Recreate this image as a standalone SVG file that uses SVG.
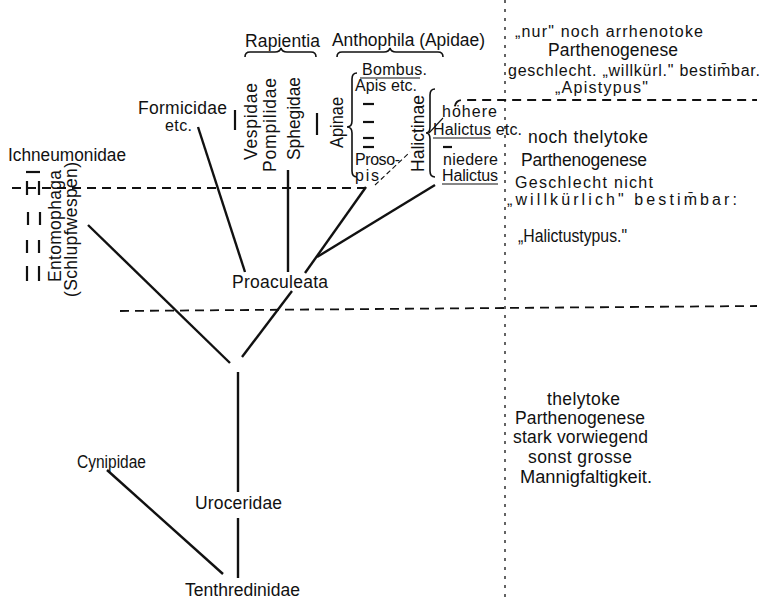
<svg xmlns="http://www.w3.org/2000/svg" width="766" height="599" viewBox="0 0 766 599">
<style>
text{font-family:"Liberation Sans","DejaVu Sans",sans-serif;font-size:17.5px;fill:#111}
text.s{font-size:16px}
.br{fill:none;stroke:#111;stroke-width:1.6}
.ln{stroke:#111;stroke-width:2.4;fill:none;stroke-linecap:butt}
.tk{stroke:#111;stroke-width:2.2}
.dash{stroke:#111;stroke-width:1.8;stroke-dasharray:9,6;fill:none}
.dot{stroke:#111;stroke-width:1.3;stroke-dasharray:3,6}
.thin{stroke:#111;stroke-width:1.1;fill:none}
.ul{stroke:#111;stroke-width:1.2}
</style>
<rect width="766" height="599" fill="#fff"/>

<g id="guides">
<line class="dot" x1="505" y1="0" x2="505" y2="599"/>
<line class="dash" x1="12" y1="188" x2="370" y2="188"/>
<path class="dash" d="M455,106 Q456,100 463,100 L757,100"/>
<line class="dash" x1="120" y1="311" x2="757" y2="306"/>
</g>

<g id="connectors">
<line class="ln" x1="198" y1="127" x2="245" y2="272"/>
<line class="ln" x1="288" y1="170" x2="288" y2="272"/>
<line class="ln" x1="366" y1="187" x2="305" y2="273"/>
<line class="ln" x1="435" y1="185" x2="317" y2="257"/>
<line class="ln" x1="292" y1="291" x2="242" y2="357"/>
<line class="ln" x1="88" y1="225" x2="230" y2="363"/>
<line class="ln" x1="238" y1="372" x2="238" y2="492"/>
<line class="ln" x1="238" y1="518" x2="238" y2="578"/>
<line class="ln" x1="107" y1="470" x2="223" y2="574"/>
<line class="thin" x1="375" y1="185" x2="410" y2="152" stroke-dasharray="5,3"/>
<line class="thin" x1="429" y1="133" x2="443" y2="118"/>
</g>

<g id="rapientia">
<text x="245" y="47" textLength="75">Rapientia</text>
<path class="br" d="M245,57 Q245,52 250,52 L275,52 Q280,52 281,48 Q282,52 287,52 L311,52 Q316,52 316,57"/>
<text transform="translate(257,121.5) rotate(-90)" text-anchor="middle" textLength="77">Vespidae</text>
<text transform="translate(276,125) rotate(-90)" text-anchor="middle" textLength="94">Pompilidae</text>
<text transform="translate(300,118.5) rotate(-90)" text-anchor="middle" textLength="83" lengthAdjust="spacingAndGlyphs">Sphegidae</text>
<line class="tk" x1="235" y1="110" x2="235" y2="130"/>
<line class="tk" x1="317" y1="113" x2="317" y2="135"/>
</g>

<g id="anthophila">
<text x="332" y="46" textLength="153" lengthAdjust="spacingAndGlyphs">Anthophila (Apidae)</text>
<path class="br" d="M337,57 Q337,52 342,52 L384,52 Q389,52 390,48 Q391,52 396,52 L438,52 Q443,52 443,57"/>
</g>

<g id="apinae">
<text transform="translate(343,122.5) rotate(-90)" text-anchor="middle" textLength="51" lengthAdjust="spacingAndGlyphs">Apinae</text>
<path class="br" d="M357,73 Q352,73 352,79 L352,121 Q352,127 347,127 Q352,127 352,133 L352,171 Q352,177 357,177"/>
<text class="s" x="362" y="75" textLength="65">Bombus.</text>
<line class="ul" x1="360" y1="78" x2="420" y2="78"/>
<text class="s" x="355" y="91" textLength="62">Apis etc.</text>
<line class="tk" x1="363" y1="104" x2="374" y2="104"/>
<line class="tk" x1="363" y1="122" x2="374" y2="122"/>
<line class="tk" x1="363" y1="138" x2="374" y2="138"/>
<line class="tk" x1="363" y1="147" x2="374" y2="147"/>
<text class="s" x="355" y="165" textLength="45">Proso-</text>
<text class="s" x="355" y="181" textLength="24">pis</text>
</g>

<g id="halictinae">
<text transform="translate(424,133.5) rotate(-90)" text-anchor="middle" textLength="77" lengthAdjust="spacingAndGlyphs">Halictinae</text>
<path class="br" d="M435,89 Q430,89 430,95 L430,127 Q430,133 426,133 Q430,133 430,139 L430,171 Q430,177 435,177"/>
<text class="s" x="442" y="117" textLength="55">höhere</text>
<text class="s" x="433" y="135" textLength="89">Halictus etc.</text>
<line class="ul" x1="433" y1="138" x2="491" y2="138"/>
<line class="tk" x1="443" y1="147" x2="452" y2="147"/>
<text class="s" x="443" y="165" textLength="55">niedere</text>
<text class="s" x="442" y="181" textLength="56">Halictus</text>
<line class="ul" x1="442" y1="184" x2="498" y2="184"/>
</g>

<g id="formicidae">
<text x="138" y="114" textLength="89">Formicidae</text>
<text class="s" x="165" y="131" textLength="27">etc.</text>
</g>

<g id="ichneumonidae">
<text x="8" y="161" textLength="118" lengthAdjust="spacingAndGlyphs">Ichneumonidae</text>
<text transform="translate(61,226) rotate(-90)" text-anchor="middle" textLength="112">Entomophaga</text>
<text transform="translate(77,229.5) rotate(-90)" text-anchor="middle" textLength="135">(Schlupfwespen)</text>
<line class="tk" x1="26" y1="172" x2="40" y2="172"/>
<line class="tk" x1="27" y1="181" x2="27" y2="195"/>
<line class="tk" x1="39" y1="181" x2="39" y2="195"/>
<line class="tk" x1="28" y1="212" x2="28" y2="225"/>
<line class="tk" x1="40" y1="212" x2="40" y2="225"/>
<line class="tk" x1="27" y1="240" x2="27" y2="253"/>
<line class="tk" x1="39" y1="240" x2="39" y2="253"/>
<line class="tk" x1="27" y1="266" x2="27" y2="281"/>
<line class="tk" x1="39" y1="266" x2="39" y2="281"/>
</g>

<g id="proaculeata"><text x="232" y="288" textLength="96">Proaculeata</text></g>
<g id="uroceridae"><text x="195" y="509" textLength="87">Uroceridae</text></g>
<g id="tenthredinidae"><text x="185" y="596" textLength="115" lengthAdjust="spacingAndGlyphs">Tenthredinidae</text></g>
<g id="cynipidae"><text x="77" y="468" textLength="69" lengthAdjust="spacingAndGlyphs">Cynipidae</text></g>

<g id="apistypus">
<text class="s" x="515" y="37" textLength="188">„nur" noch arrhenotoke</text>
<text x="548" y="56" textLength="130">Parthenogenese</text>
<text class="s" x="508" y="76" textLength="252">geschlecht. „willkürl." bestim̄bar.</text>
<text class="s" x="555" y="93" textLength="93">„Apistypus"</text>
</g>

<g id="halictustypus">
<text x="528" y="143" textLength="120">noch thelytoke</text>
<text x="521" y="166" textLength="126">Parthenogenese</text>
<text class="s" x="515" y="188" textLength="138">Geschlecht nicht</text>
<text class="s" x="507" y="205" textLength="230">„willkürlich" bestim̄bar:</text>
<text x="518" y="242" textLength="109" lengthAdjust="spacingAndGlyphs">„Halictustypus."</text>
</g>

<g id="thelytoke">
<text x="547" y="405" textLength="73">thelytoke</text>
<text x="515" y="424" textLength="130">Parthenogenese</text>
<text x="513" y="443" textLength="135">stark vorwiegend</text>
<text x="528" y="463" textLength="104">sonst grosse</text>
<text x="520" y="483" textLength="132" lengthAdjust="spacingAndGlyphs">Mannigfaltigkeit.</text>
</g>
</svg>
